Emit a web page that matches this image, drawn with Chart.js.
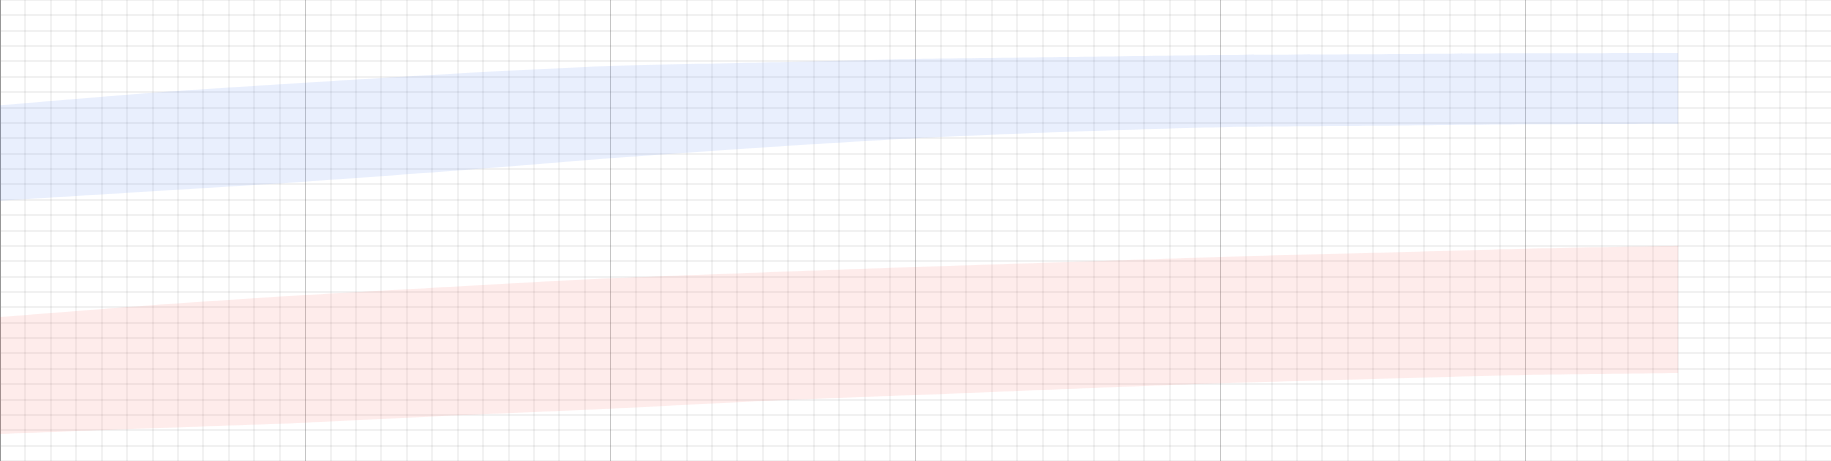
<!DOCTYPE html>
<html>
<head>
<meta charset="utf-8">
<script src="https://cdn.jsdelivr.net/npm/chart.js@4/dist/chart.umd.min.js"></script>
<style>
  html, body { margin: 0; padding: 0; background: #ffffff; }
  #wrap { width: 1831px; height: 461px; }
</style>
</head>
<body>
<div id="wrap"><canvas id="c" width="1831" height="461"></canvas></div>
<script>
// Months along the x axis where the band edges were read
const months = [0, 6, 12, 18, 24, 30, 36, 42, 48, 54, 60, 66];
// Upper band (blue)
const blueUpper = [23.15, 23.97, 24.62, 25.22, 25.70, 25.93, 26.16, 26.29, 26.42, 26.47, 26.53, 26.55];
const blueLower = [16.94, 17.56, 18.18, 18.90, 19.70, 20.40, 21.00, 21.42, 21.72, 21.81, 21.91, 21.95];
// Lower band (red)
const redUpper = [9.37, 10.14, 10.80, 11.36, 11.89, 12.27, 12.62, 12.95, 13.28, 13.55, 13.82, 14.01];
const redLower = [1.76, 2.13, 2.49, 2.97, 3.40, 3.90, 4.29, 4.69, 5.06, 5.34, 5.60, 5.73];
// Axis ranges
const xRange = [0, 72];
const yRange = [0, 30];

const pts = arr => months.map((m, i) => ({ x: m, y: arr[i] }));

const lineBase = {
  borderWidth: 0,
  borderColor: 'rgba(0,0,0,0)',
  pointRadius: 0,
  pointHoverRadius: 0,
  tension: 0.25
};

const isMajor = ctx => ctx.tick && ctx.tick.value % 12 === 0;

new Chart(document.getElementById('c'), {
  type: 'line',
  data: {
    datasets: [
      Object.assign({}, lineBase, { data: pts(blueUpper), fill: '+1', backgroundColor: 'rgba(59,110,235,0.11)' }),
      Object.assign({}, lineBase, { data: pts(blueLower), fill: false }),
      Object.assign({}, lineBase, { data: pts(redUpper), fill: '+1', backgroundColor: 'rgba(244,67,54,0.10)' }),
      Object.assign({}, lineBase, { data: pts(redLower), fill: false })
    ]
  },
  options: {
    responsive: false,
    animation: false,
    devicePixelRatio: 1,
    layout: { padding: 0 },
    plugins: { legend: { display: false }, tooltip: { enabled: false } },
    scales: {
      x: {
        type: 'linear',
        min: xRange[0],
        max: xRange[1],
        ticks: { display: false, stepSize: 1, autoSkip: false, maxTicksLimit: 200 },
        grid: {
          drawTicks: false,
          color: ctx => isMajor(ctx) ? 'rgba(0,0,0,0.23)' : 'rgba(0,0,0,0.05)',
          lineWidth: ctx => isMajor(ctx) ? 1 : 2
        },
        border: { color: 'rgba(0,0,0,0.23)' }
      },
      y: {
        type: 'linear',
        min: yRange[0],
        max: yRange[1],
        ticks: { display: false, stepSize: 1, autoSkip: false, maxTicksLimit: 200 },
        grid: { drawTicks: false, color: 'rgba(0,0,0,0.055)', lineWidth: 2 },
        border: { color: 'rgba(0,0,0,0.23)' }
      }
    }
  }
});
</script>
</body>
</html>
